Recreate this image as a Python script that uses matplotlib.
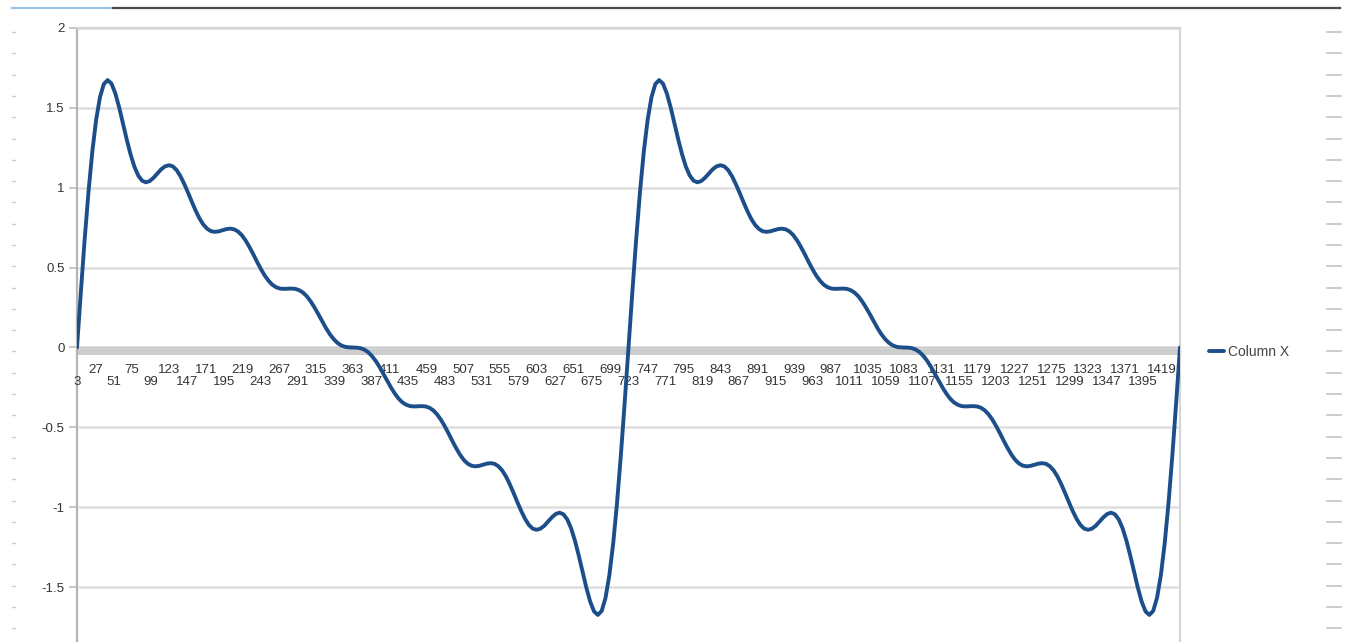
import numpy as np
import matplotlib.pyplot as plt
from matplotlib.lines import Line2D
from matplotlib.ticker import FuncFormatter
from matplotlib.transforms import offset_copy

# Column X, one reading every 5 rows (rows 3 .. 718, then 723 .. 1443)
first_cycle = [
    0.000, 0.346, 0.676, 0.974, 1.227, 1.426, 1.567, 1.649, 1.674, 1.652, 1.591, 1.504,
    1.403, 1.301, 1.208, 1.131, 1.076, 1.044, 1.034, 1.042, 1.063, 1.090, 1.116, 1.134,
    1.141, 1.134, 1.111, 1.073, 1.024, 0.969, 0.911, 0.856, 0.807, 0.769, 0.743, 0.728,
    0.724, 0.727, 0.734, 0.741, 0.744, 0.740, 0.727, 0.704, 0.671, 0.630, 0.585, 0.537,
    0.492, 0.451, 0.418, 0.393, 0.377, 0.369, 0.367, 0.368, 0.369, 0.367, 0.359, 0.344,
    0.321, 0.289, 0.251, 0.209, 0.165, 0.122, 0.084, 0.053, 0.029, 0.013, 0.004, 0.001,
    0.000, -0.001, -0.004, -0.013, -0.029, -0.053, -0.084, -0.122, -0.165, -0.209, -0.251, -0.289,
    -0.321, -0.344, -0.359, -0.367, -0.369, -0.368, -0.367, -0.369, -0.377, -0.393, -0.418, -0.451,
    -0.492, -0.537, -0.585, -0.630, -0.671, -0.704, -0.727, -0.740, -0.744, -0.741, -0.734, -0.727,
    -0.724, -0.728, -0.743, -0.769, -0.807, -0.856, -0.911, -0.969, -1.024, -1.073, -1.111, -1.134,
    -1.141, -1.134, -1.116, -1.090, -1.063, -1.042, -1.034, -1.044, -1.076, -1.131, -1.208, -1.301,
    -1.403, -1.504, -1.591, -1.652, -1.674, -1.649, -1.567, -1.426, -1.227, -0.974, -0.676, -0.346,
]
second_cycle = [
    0.000, 0.346, 0.676, 0.974, 1.227, 1.426, 1.567, 1.649, 1.674, 1.652, 1.591, 1.504,
    1.403, 1.301, 1.208, 1.131, 1.076, 1.044, 1.034, 1.042, 1.063, 1.090, 1.116, 1.134,
    1.141, 1.134, 1.111, 1.073, 1.024, 0.969, 0.911, 0.856, 0.807, 0.769, 0.743, 0.728,
    0.724, 0.727, 0.734, 0.741, 0.744, 0.740, 0.727, 0.704, 0.671, 0.630, 0.585, 0.537,
    0.492, 0.451, 0.418, 0.393, 0.377, 0.369, 0.367, 0.368, 0.369, 0.367, 0.359, 0.344,
    0.321, 0.289, 0.251, 0.209, 0.165, 0.122, 0.084, 0.053, 0.029, 0.013, 0.004, 0.001,
    0.000, -0.001, -0.004, -0.013, -0.029, -0.053, -0.084, -0.122, -0.165, -0.209, -0.251, -0.289,
    -0.321, -0.344, -0.359, -0.367, -0.369, -0.368, -0.367, -0.369, -0.377, -0.393, -0.418, -0.451,
    -0.492, -0.537, -0.585, -0.630, -0.671, -0.704, -0.727, -0.740, -0.744, -0.741, -0.734, -0.727,
    -0.724, -0.728, -0.743, -0.769, -0.807, -0.856, -0.911, -0.969, -1.024, -1.073, -1.111, -1.134,
    -1.141, -1.134, -1.116, -1.090, -1.063, -1.042, -1.034, -1.044, -1.076, -1.131, -1.208, -1.301,
    -1.403, -1.504, -1.591, -1.652, -1.674, -1.649, -1.567, -1.426, -1.227, -0.974, -0.676, -0.346,
    0.000,
]
rows = np.arange(3, 1444, 5)
values = first_cycle + second_cycle

label_rows = np.arange(3, 1420, 24)
upper_rows = label_rows[1::2]   # 27, 75, 123, ...
lower_rows = label_rows[0::2]   # 3, 51, 99, ...
y_ticks = [-1.5, -1, -0.5, 0, 0.5, 1, 1.5, 2]

W, H = 1353, 642
fig = plt.figure(figsize=(W / 100, H / 100), dpi=100)
plt.rcParams['font.family'] = ['Liberation Sans', 'DejaVu Sans']

# plot area: x 77..1180 px, y=2 at 28 px, y=-2 below the bottom edge
ax = fig.add_axes([77 / W, 1 - 667 / H, 1103 / W, 639 / H])
ax.plot(rows, values, color='#1c4f8a', lw=2.8, solid_joinstyle='round',
        solid_capstyle='round', label='Column X', zorder=4)

ax.set_xlim(3, 1443)
ax.set_ylim(-2, 2)

ax.set_yticks(y_ticks)
ax.yaxis.set_major_formatter(FuncFormatter(lambda v, _: f"{v:g}"))
ax.yaxis.grid(True, color='#dedede', lw=1.8)
ax.tick_params(axis='y', length=6, width=1.2, color='#bdbdbd', pad=3,
               labelsize=9.5, labelcolor='#333333')

# category labels in two staggered rows, a tick on every other row
ax.set_xticks(upper_rows)
ax.set_xticklabels([str(r) for r in upper_rows])
ax.set_xticks(np.arange(3, 1444, 2), minor=True)
ax.tick_params(axis='x', which='both', length=6, width=1.3, color='#c9c9c9',
               direction='out')
ax.tick_params(axis='x', which='major', pad=6, labelsize=9.5, labelcolor='#333333')
lower_tr = offset_copy(ax.transData, fig=fig, x=0, y=-29, units='dots')
for r in lower_rows:
    ax.text(r, 0, str(r), transform=lower_tr, ha='center', va='top',
            fontsize=9.5, color='#333333')

ax.spines['bottom'].set_position(('data', 0))
ax.spines['bottom'].set_color('#c6c6c6')
ax.spines['left'].set_color('#b5b5b5')
ax.spines['left'].set_linewidth(1.6)
for side in ('top', 'right'):
    ax.spines[side].set_color('#d6d6d6')
    ax.spines[side].set_linewidth(1.6)

ax.legend(loc='center left', bbox_to_anchor=(1209 / W, 1 - 352 / H),
          bbox_transform=fig.transFigure, frameon=False, fontsize=10,
          handlelength=1.1, handletextpad=0.3, borderpad=0, borderaxespad=0,
          labelcolor='#444444')

# window chrome around the chart
fig.add_artist(Line2D([12 / W, 113 / W], [1 - 8 / H] * 2, color='#9cc3e5', lw=1.6))
fig.add_artist(Line2D([113 / W, 1340 / W], [1 - 8 / H] * 2, color='#4a4a4a', lw=1.6))
for py in np.arange(32, 640, 21.3):
    fig.add_artist(Line2D([12 / W, 15 / W], [1 - py / H] * 2, color='#cfcfcf', lw=1))
    fig.add_artist(Line2D([1327 / W, 1341 / W], [1 - py / H] * 2, color='#c4c4c4', lw=1.2))

fig.savefig('out.png', dpi=100)
